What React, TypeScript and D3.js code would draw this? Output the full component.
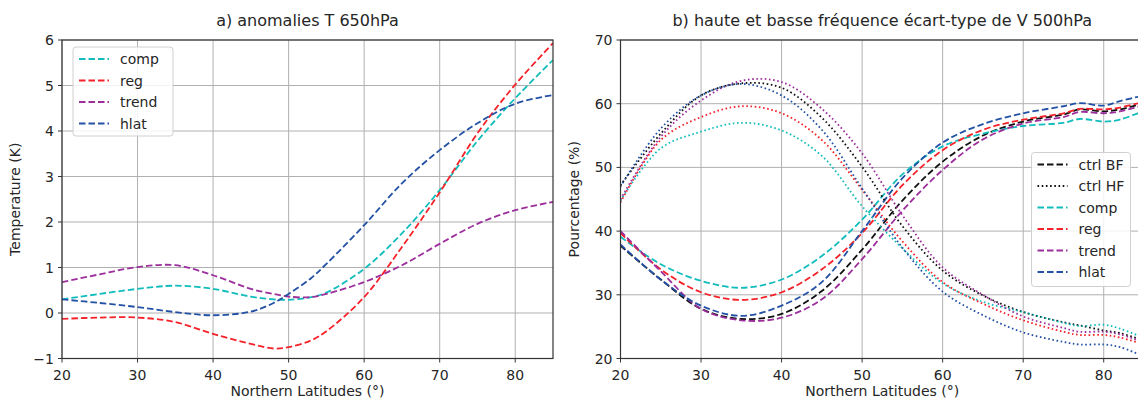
import React from "react";
import * as d3 from "d3";

// ---------- Panel a) data ----------
const latA = [20, 25, 30, 35, 40, 45, 48, 50, 53, 55, 60, 65, 70, 75, 80, 85];
const compA = [0.3, 0.42, 0.53, 0.6, 0.53, 0.36, 0.3, 0.29, 0.35, 0.45, 0.97, 1.75, 2.7, 3.78, 4.72, 5.56];
const regA = [-0.13, -0.1, -0.1, -0.2, -0.46, -0.68, -0.78, -0.75, -0.6, -0.4, 0.35, 1.45, 2.65, 3.95, 5.02, 5.93];
const trendA = [0.68, 0.85, 1.01, 1.05, 0.83, 0.53, 0.42, 0.36, 0.35, 0.42, 0.68, 1.05, 1.52, 1.96, 2.26, 2.44];
const hlatA = [0.3, 0.22, 0.13, 0.02, -0.05, 0.03, 0.22, 0.42, 0.77, 1.08, 1.93, 2.85, 3.58, 4.17, 4.6, 4.79];
const yTicksA = [-1, 0, 1, 2, 3, 4, 5, 6];
const xTicks = [20, 30, 40, 50, 60, 70, 80];

// ---------- Panel b) data ----------
const latB = [20, 25, 30, 35, 40, 45, 50, 55, 60, 65, 70, 75, 77, 80, 82, 85];
const ctrlBF = [37.7, 32.4, 27.8, 26.2, 27.0, 30.6, 37.1, 44.8, 50.9, 55.0, 57.2, 58.3, 59.1, 58.8, 59.1, 60.1];
const compBF = [39.1, 34.8, 32.2, 31.1, 32.4, 36.1, 41.8, 48.9, 53.3, 55.3, 56.5, 57.0, 57.6, 57.2, 57.5, 58.9];
const regBF = [39.7, 34.0, 30.4, 29.2, 30.4, 34.0, 39.7, 47.2, 52.7, 55.9, 57.5, 58.5, 59.2, 59.1, 59.4, 60.3];
const trendBF = [40.0, 33.7, 27.8, 26.0, 26.4, 29.3, 35.6, 43.2, 49.6, 54.4, 56.9, 57.9, 58.7, 58.5, 58.8, 59.8];
const hlatBF = [37.9, 32.4, 28.3, 26.7, 28.3, 32.0, 40.0, 48.3, 53.9, 56.8, 58.5, 59.6, 60.1, 59.7, 60.4, 61.3];
const ctrlHF = [47.2, 55.3, 61.3, 63.2, 62.5, 57.8, 50.1, 40.8, 33.8, 29.9, 27.3, 25.7, 25.2, 24.4, 24.0, 22.8];
const compHF = [44.8, 53.0, 55.6, 57.0, 55.8, 51.8, 43.9, 37.3, 31.8, 28.9, 27.3, 25.6, 25.1, 25.3, 24.7, 23.2];
const regHF = [44.5, 54.3, 57.9, 59.6, 58.5, 54.3, 46.5, 38.4, 32.0, 28.6, 26.0, 24.2, 23.7, 23.7, 23.3, 22.2];
const trendHF = [45.0, 54.8, 60.5, 63.6, 63.4, 59.2, 52.2, 42.5, 34.3, 30.0, 26.6, 24.8, 24.2, 24.2, 23.8, 22.5];
const hlatHF = [47.0, 56.1, 61.3, 63.1, 61.3, 55.9, 46.7, 37.4, 30.5, 26.8, 24.1, 22.6, 22.2, 22.2, 21.8, 20.3];
const yTicksB = [20, 30, 40, 50, 60, 70];

const C = {
  ctrl: "#111111",
  comp: "#12bcbc",
  reg: "#f5222a",
  trend: "#9c2f9c",
  hlat: "#2351a5",
};

const FONT = "DejaVu Sans, sans-serif";
const DASH = "6.5,3";
const DOT = "1.6,2.6";

type Series = { name: string; values: number[]; color: string; dash: string };

function Panel(props: {
  x0: number; x1: number; y0: number; y1: number;
  xDomain: [number, number]; yDomain: [number, number];
  lats: number[]; series: Series[]; yTicks: number[];
  title: string; ylabel: string; clipId: string;
  legend: { x: number; y: number; w: number; h: number; items: Series[] };
}) {
  const { x0, x1, y0, y1, lats, series, yTicks, title, ylabel, clipId, legend } = props;
  const x = d3.scaleLinear().domain(props.xDomain).range([x0, x1]);
  const y = d3.scaleLinear().domain(props.yDomain).range([y1, y0]);
  const line = d3
    .line<number>()
    .x((_, i) => x(lats[i]))
    .y((v) => y(v))
    .curve(d3.curveCatmullRom.alpha(0.5));
  const fmt = (v: number) => (v < 0 ? "\u2212" + Math.abs(v) : String(v));
  return (
    <g>
      <defs>
        <clipPath id={clipId}>
          <rect x={x0} y={y0} width={x1 - x0} height={y1 - y0} />
        </clipPath>
      </defs>
      {xTicks.map((t) => (
        <line key={"gx" + t} x1={x(t)} x2={x(t)} y1={y0} y2={y1} stroke="#b0b0b0" strokeWidth={1} />
      ))}
      {yTicks.map((t) => (
        <line key={"gy" + t} x1={x0} x2={x1} y1={y(t)} y2={y(t)} stroke="#b0b0b0" strokeWidth={1} />
      ))}
      <g clipPath={`url(#${clipId})`}>
        {series.map((s) => (
          <path key={s.name} d={line(s.values) || ""} fill="none" stroke={s.color}
            strokeWidth={1.8} strokeDasharray={s.dash} />
        ))}
      </g>
      <rect x={x0} y={y0} width={x1 - x0} height={y1 - y0} fill="none" stroke="#333" strokeWidth={1.2} />
      {xTicks.map((t) => (
        <g key={"tx" + t}>
          <line x1={x(t)} x2={x(t)} y1={y1} y2={y1 + 4} stroke="#333" strokeWidth={1} />
          <text x={x(t)} y={y1 + 21} textAnchor="middle" fontSize={14} fill="#262626" fontFamily={FONT}>{t}</text>
        </g>
      ))}
      {yTicks.map((t) => (
        <g key={"ty" + t}>
          <line x1={x0 - 4} x2={x0} y1={y(t)} y2={y(t)} stroke="#333" strokeWidth={1} />
          <text x={x0 - 8} y={y(t) + 5} textAnchor="end" fontSize={14} fill="#262626" fontFamily={FONT}>{fmt(t)}</text>
        </g>
      ))}
      <text x={(x0 + x1) / 2} y={26} textAnchor="middle" fontSize={16} fill="#262626" fontFamily={FONT}>{title}</text>
      <text x={(x0 + x1) / 2} y={396} textAnchor="middle" fontSize={14} fill="#262626" fontFamily={FONT}>Northern Latitudes (°)</text>
      <text transform={`translate(${x0 - 42},${(y0 + y1) / 2}) rotate(-90)`} textAnchor="middle" fontSize={14}
        fill="#262626" fontFamily={FONT}>{ylabel}</text>
      <g>
        <rect x={legend.x} y={legend.y} width={legend.w} height={legend.h} rx={3} fill="white" fillOpacity={0.85}
          stroke="#d0d0d0" strokeWidth={1} />
        {legend.items.map((s, i) => {
          const cy = legend.y + 12 + i * 21.5;
          return (
            <g key={"lg" + s.name}>
              <line x1={legend.x + 6} x2={legend.x + 36} y1={cy} y2={cy} stroke={s.color} strokeWidth={1.8}
                strokeDasharray={s.dash} />
              <text x={legend.x + 47} y={cy + 5} fontSize={14} fill="#262626" fontFamily={FONT}>{s.name}</text>
            </g>
          );
        })}
      </g>
    </g>
  );
}

export default function App() {
  const seriesA: Series[] = [
    { name: "comp", values: compA, color: C.comp, dash: DASH },
    { name: "reg", values: regA, color: C.reg, dash: DASH },
    { name: "trend", values: trendA, color: C.trend, dash: DASH },
    { name: "hlat", values: hlatA, color: C.hlat, dash: DASH },
  ];
  const bf: Series[] = [
    { name: "ctrl BF", values: ctrlBF, color: C.ctrl, dash: DASH },
    { name: "comp", values: compBF, color: C.comp, dash: DASH },
    { name: "reg", values: regBF, color: C.reg, dash: DASH },
    { name: "trend", values: trendBF, color: C.trend, dash: DASH },
    { name: "hlat", values: hlatBF, color: C.hlat, dash: DASH },
  ];
  const hf: Series[] = [
    { name: "ctrl HF", values: ctrlHF, color: C.ctrl, dash: DOT },
    { name: "compHF", values: compHF, color: C.comp, dash: DOT },
    { name: "regHF", values: regHF, color: C.reg, dash: DOT },
    { name: "trendHF", values: trendHF, color: C.trend, dash: DOT },
    { name: "hlatHF", values: hlatHF, color: C.hlat, dash: DOT },
  ];
  const legendB: Series[] = [bf[0], hf[0], bf[1], bf[2], bf[3], bf[4]];
  return (
    <svg width={1138} height={400} style={{ position: "absolute", left: 0, top: 0, background: "white" }}>
      <Panel x0={62} x1={553} y0={40} y1={358.5} xDomain={[20, 85]} yDomain={[-1, 6]} lats={latA}
        series={seriesA} yTicks={yTicksA} title="a) anomalies T 650hPa" ylabel="Temperature (K)" clipId="ca"
        legend={{ x: 73, y: 47, w: 100, h: 89, items: seriesA }} />
      <Panel x0={620.5} x1={1144} y0={40} y1={358.5} xDomain={[20, 85]} yDomain={[20, 70]} lats={latB}
        series={[...bf, ...hf]} yTicks={yTicksB}
        title="b) haute et basse fréquence écart-type de V 500hPa" ylabel="Pourcentage (%)" clipId="cb"
        legend={{ x: 1031.5, y: 152.5, w: 99, h: 134, items: legendB }} />
    </svg>
  );
}
